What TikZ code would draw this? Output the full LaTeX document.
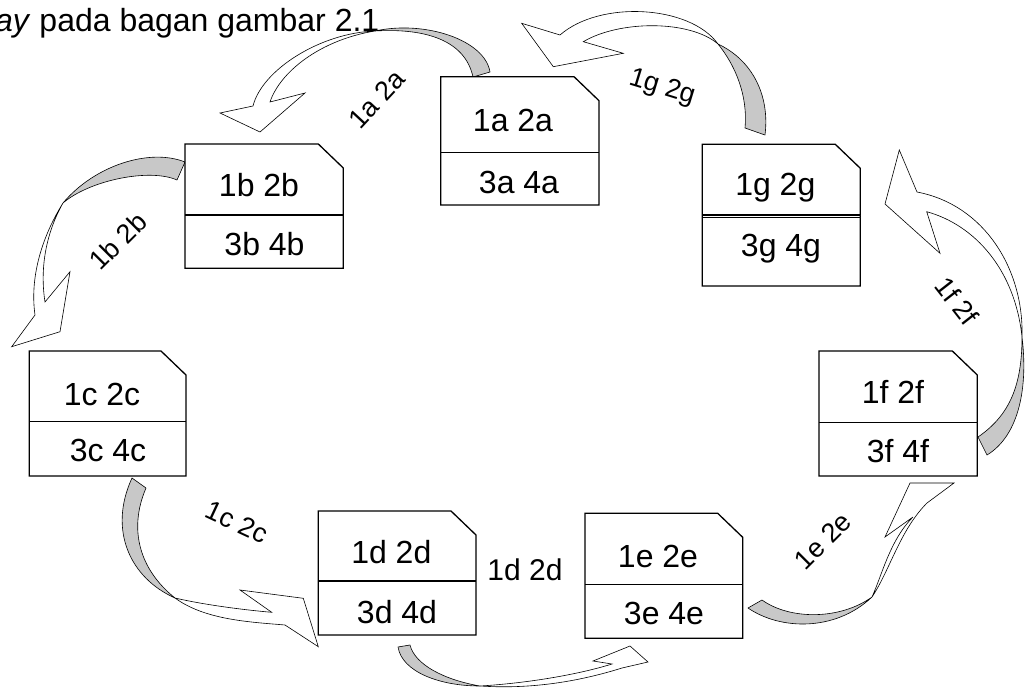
\documentclass[tikz,border=0pt]{standalone}
\usepackage{fontspec}
\setmainfont{Liberation Sans}
\definecolor{backgray}{HTML}{C8C8C8}
% card with a clipped top-right corner and a divider line:
% #1 name, #2 left, #3 top, #4 right, #5 divider, #6 bottom
\newcommand\card[6]{%
  \draw[cardline] (#2,#3) -- ({#4-25},#3) -- (#4,{#3+24}) -- (#4,#6) -- (#2,#6) -- cycle;
  \draw[cardline] (#2,#5) -- (#4,#5);
  \coordinate (#1) at ({(#2+#4)/2},{(#3+#6)/2});
}
\begin{document}
\begin{tikzpicture}[x=1pt,y=-1pt,
  cardline/.style={draw=black,fill=white,line width=1.3pt,line join=miter},
  ribbonback/.style={draw=black,line width=0.6pt,fill=backgray,line join=round},
  ribbonfront/.style={draw=black,line width=0.6pt,fill=white,line join=miter},
  cardtext/.style={inner sep=0pt,anchor=base,font=\fontsize{32}{36}\selectfont},
  flowlabel/.style={inner sep=0pt,font=\fontsize{27}{30}\selectfont}]
\useasboundingbox (0,0) rectangle (1026,688);

% heading line
\node[inner sep=0pt,anchor=base west,font=\fontsize{32}{36}\selectfont] (title) at (-5,31.7)
  {\textit{ay} pada bagan gambar 2.1};

% ---- twisted curved arrows: shaded back face, then white front with head ----
% a -> b
\path[ribbonback] (490,72) .. controls (485,40) and (425,20) .. (375,31)
  .. controls (425,28) and (465,40) .. (473,77) -- cycle;
\path[ribbonfront] (375,31) .. controls (320,33) and (262,70) .. (253,106)
  -- (220,113) -- (260,132) -- (305,93) -- (270,102)
  .. controls (280,72) and (320,40) .. (375,31) -- cycle;
% b -> c
\path[ribbonback] (185,162) .. controls (150,148) and (95,165) .. (63,203)
  .. controls (90,180) and (150,168) .. (177,180) -- cycle;
\path[ribbonfront] (63,203) .. controls (40,240) and (30,280) .. (35,315)
  -- (11.7,346.7) -- (60,331.7) -- (70,271.7) -- (45,302)
  .. controls (40,270) and (45,235) .. (63,203) -- cycle;
% c -> d
\path[ribbonback] (132,478) .. controls (108,530) and (130,578) .. (175,598)
  .. controls (140,570) and (128,530) .. (146,488) -- cycle;
\path[ribbonfront] (175,598) .. controls (205,620) and (250,622) .. (285,625)
  -- (318.3,646.7) -- (303.3,598.3) -- (240,590) -- (271.7,612.3)
  .. controls (245,610) and (205,605) .. (175,598) -- cycle;
% d -> e
\path[ribbonback] (398,647) .. controls (402,672) and (440,686) .. (480,686)
  .. controls (445,680) and (415,665) .. (410,645) -- cycle;
\path[ribbonfront] (480,686) .. controls (540,690) and (590,678) .. (622,668)
  -- (648,662) -- (630,646) -- (593,661) -- (612,664)
  .. controls (580,674) and (530,683) .. (480,686) -- cycle;
% e -> f
\path[ribbonback] (748,608) .. controls (780,630) and (835,632) .. (872,597)
  .. controls (840,620) and (790,620) .. (762,600) -- cycle;
\path[ribbonfront] (872,597) .. controls (890,570) and (900,530) .. (927,503)
  -- (954,483) -- (910,483) -- (885,537) -- (913,517)
  .. controls (890,540) and (882,575) .. (872,597) -- cycle;
% f -> g
\path[ribbonback] (987,455) .. controls (1020,435) and (1028,385) .. (1022,337)
  .. controls (1022,385) and (1010,415) .. (978,437) -- cycle;
\path[ribbonfront] (1022,337) .. controls (1024,270) and (985,205) .. (917,192)
  -- (899.3,150) -- (885,204) -- (940,253.3) -- (926.7,211.7)
  .. controls (975,225) and (1015,270) .. (1022,337) -- cycle;
% g -> a
\path[ribbonback] (765,135) .. controls (770,95) and (752,60) .. (718,44)
  .. controls (735,65) and (748,95) .. (745,128) -- cycle;
\path[ribbonfront] (718,44) .. controls (690,5) and (600,0) .. (560,35)
  -- (521.7,23.3) -- (553.3,66.7) -- (623.3,53.3) -- (583.3,41.7)
  .. controls (620,20) and (690,20) .. (718,44) -- cycle;

% ---- cards ----
\card{A}{440.7}{76.7}{599}{152.3}{205}
\card{B}{185}{144}{343.3}{215}{268.3}
\card{C}{29.3}{351}{186}{421.7}{476}
\card{D}{318.3}{511}{476}{581}{635}
\card{E}{585}{513.3}{742.7}{584.3}{638.3}
\card{F}{819}{351}{977.3}{422.3}{476}
\card{G}{702.3}{144.3}{860.3}{215}{286}
\draw[cardline] (702.3,217.5) -- (860.3,217.5);

\node[cardtext] (A1) at (513,131.7) {1a 2a};
\node[cardtext] (A2) at (519,193.3) {3a 4a};
\node[cardtext] (B1) at (259,196.7) {1b 2b};
\node[cardtext] (B2) at (264.5,255) {3b 4b};
\node[cardtext] (C1) at (102,405) {1c 2c};
\node[cardtext] (C2) at (108,461.7) {3c 4c};
\node[cardtext] (D1) at (391.3,563.3) {1d 2d};
\node[cardtext] (D2) at (397,623) {3d 4d};
\node[cardtext] (E1) at (658,567.7) {1e 2e};
\node[cardtext] (E2) at (664,624) {3e 4e};
\node[cardtext] (F1) at (893,403.3) {1f 2f};
\node[cardtext] (F2) at (898,462.7) {3f 4f};
\node[cardtext] (G1) at (775.3,195) {1g 2g};
\node[cardtext] (G2) at (781,256.7) {3g 4g};

% ---- arrow labels ----
\node[flowlabel,rotate=47] (la) at (377,99) {1a 2a};
\node[flowlabel,rotate=45] (lb) at (118,241) {1b 2b};
\node[flowlabel,rotate=-25] (lc) at (237,522) {1c 2c};
\node[cardtext,font=\fontsize{30}{34}\selectfont] (ld) at (525,580.7) {1d 2d};
\node[flowlabel,rotate=45] (le) at (823,541) {1e 2e};
\node[flowlabel,rotate=-52] (lf) at (957,301) {1f 2f};
\node[flowlabel,rotate=-17] (lg) at (662,88) {1g 2g};
\end{tikzpicture}
\end{document}
